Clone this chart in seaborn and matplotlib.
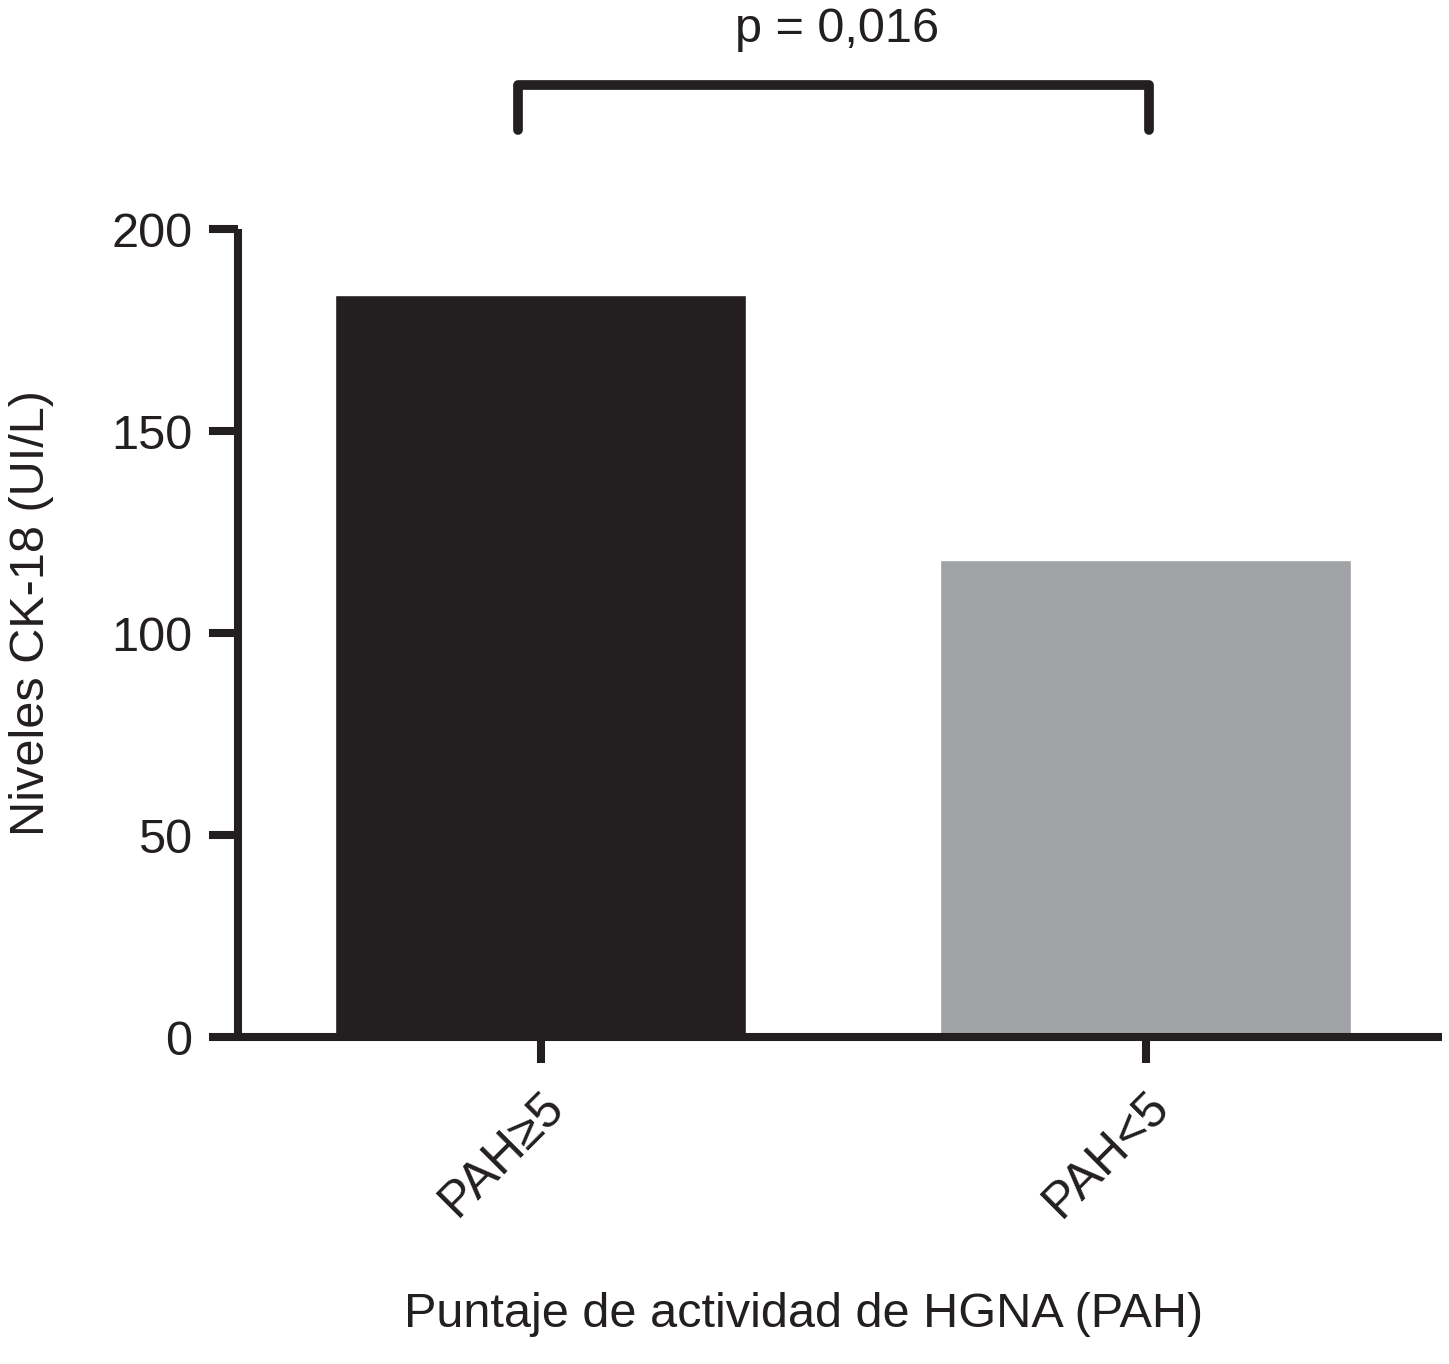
import pandas as pd
import matplotlib
matplotlib.use("Agg")
import matplotlib.pyplot as plt
import seaborn as sns

# -------------------------------
# Data
# -------------------------------
groups = ["PAH≥5", "PAH<5"]
ck18_levels = [183.7, 118.0]
bar_colors = ["#231F20", "#A0A2A5"]
y_ticks = [0, 50, 100, 150, 200]
p_text = "p = 0,016"

df = pd.DataFrame({"grupo": groups, "ck18": ck18_levels})

sns.set_style("white")
plt.rcParams['font.family'] = ['Liberation Sans', 'DejaVu Sans']

ink = "#231F20"

fig = plt.figure(figsize=(14.49, 13.64), dpi=100)
ax = fig.add_axes([0.1643, 0.2397, 0.8309, 0.5924])

sns.barplot(data=df, x="grupo", y="ck18", hue="grupo", palette=bar_colors,
            width=0.68, legend=False, ax=ax, saturation=1)

ax.set_xlim(-0.5, 1.49)
ax.set_ylim(0, 200)
ax.set_yticks(y_ticks)

# -------------------------------
# Axes styling
# -------------------------------
for side in ["top", "right"]:
    ax.spines[side].set_visible(False)
for side in ["left", "bottom"]:
    ax.spines[side].set_linewidth(5.8)
    ax.spines[side].set_color(ink)
    ax.spines[side].set_capstyle("butt")

ax.tick_params(axis="y", length=21, width=5.8, color=ink, labelsize=35,
               pad=12, left=True, labelcolor=ink)
ax.tick_params(axis="x", length=19, width=5.8, color=ink, labelsize=36,
               pad=14, bottom=True, labelcolor=ink)
plt.setp(ax.get_xticklabels(), rotation=45, ha="right", rotation_mode="anchor")

ax.set_xlabel("Puntaje de actividad de HGNA (PAH)", fontsize=35, color=ink)
ax.set_ylabel("Niveles CK-18 (UI/L)", fontsize=35, color=ink)
ax.xaxis.set_label_coords(0.47, -0.315)
ax.yaxis.set_label_coords(-0.153, 0.525)

# -------------------------------
# Significance bracket
# -------------------------------
bx = [-0.037, -0.037, 1.005, 1.005]
by = [224.5, 235.6, 235.6, 224.5]
ax.plot(bx, by, color=ink, lw=7, clip_on=False, solid_joinstyle="round")
ax.text(0.49, 249.5, p_text, ha="center", va="center", fontsize=35,
        color=ink, clip_on=False)

plt.savefig("out.png", dpi=100)
